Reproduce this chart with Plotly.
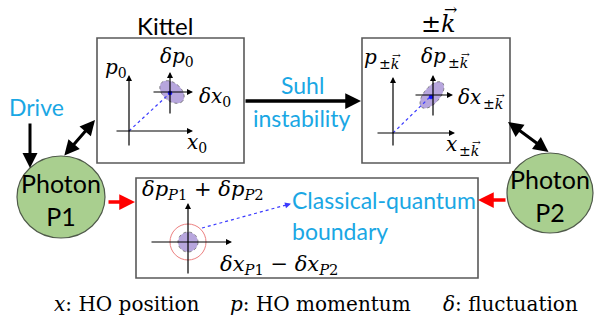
import numpy as np
import plotly.graph_objects as go

# Text content of the diagram
box_titles = ["Kittel", "\u00b1<i>k</i>"]
photon_labels = ["Photon<br>P1", "Photon<br>P2"]
process_labels = ["Drive", "Suhl", "instability"]
kittel_axes = ["<i>p</i><sub>0</sub>", "<i>x</i><sub>0</sub>",
               "<i>\u03b4p</i><sub>0</sub>", "<i>\u03b4x</i><sub>0</sub>"]
k_axes = ["<i>p</i>", "<i>x</i>", "<i>\u03b4p</i>", "<i>\u03b4x</i>"]
k_sub = "\u00b1<i>k</i>"
pair_axes = ["<i>\u03b4p</i><sub><i>P</i>1</sub> + <i>\u03b4p</i><sub><i>P</i>2</sub>",
             "<i>\u03b4x</i><sub><i>P</i>1</sub> \u2212 <i>\u03b4x</i><sub><i>P</i>2</sub>"]
boundary_label = ["Classical-quantum", "boundary"]
legend_items = ["<i>x</i>: HO position", "<i>p</i>: HO momentum", "<i>\u03b4</i>: fluctuation"]

BLUE = "#1AA7E4"
GREEN = "#A9CF8F"
PURPLE = "rgba(170,150,215,0.85)"
SERIF = "DejaVu Serif"
SANS = "Lato"

fig = go.Figure()
shapes = []
ann = []


def box(x0, y0, x1, y1):
    shapes.append(dict(type="rect", x0=x0, y0=y0, x1=x1, y1=y1,
                       line=dict(color="#595959", width=1.6)))


def arrow(x0, y0, x1, y1, color="black", width=1.2, size=1.0, both=False):
    ann.append(dict(x=x1, y=y1, ax=x0, ay=y0, xref="x", yref="y", axref="x", ayref="y",
                    text="", showarrow=True, arrowhead=2, arrowsize=size, arrowwidth=width,
                    arrowcolor=color, standoff=0, startstandoff=0,
                    arrowside="end+start" if both else "end", startarrowhead=2,
                    startarrowsize=size))


def label(x, y, text, size, family=SERIF, color="black", xanchor="center"):
    ann.append(dict(x=x, y=y, xref="x", yref="y", text=text, showarrow=False,
                    xanchor=xanchor, yanchor="middle", borderpad=0,
                    font=dict(family=family, size=size, color=color)))


def klabel(jx, y, main, size=20):
    # main symbol, then a "±k" subscript with a small vector arrow over k
    s = size * 0.7
    label(jx, y, main, size, xanchor="right")
    label(jx, y + 7, k_sub, s, xanchor="left")
    label(jx + 0.84 * s + 0.45 * s, y + 7 - 0.62 * s, "\u2192", s * 0.75)


def ellipse(cx, cy, a, b, ang, fill, line_color="#666", dash="dot"):
    t = np.linspace(0, 2 * np.pi, 60)
    r = np.deg2rad(ang)
    xs = cx + a * np.cos(t) * np.cos(r) - b * np.sin(t) * np.sin(r)
    ys = cy + a * np.cos(t) * np.sin(r) + b * np.sin(t) * np.cos(r)
    path = "M " + " L ".join(f"{x:.2f},{y:.2f}" for x, y in zip(xs, ys)) + " Z"
    shapes.append(dict(type="path", path=path, fillcolor=fill,
                       line=dict(color=line_color, width=0.8, dash=dash)))


def circle(cx, cy, rx, ry, fill, line_color, width=1.2, dash="solid"):
    shapes.append(dict(type="circle", x0=cx - rx, x1=cx + rx, y0=cy - ry, y1=cy + ry,
                       fillcolor=fill, line=dict(color=line_color, width=width, dash=dash)))


# Boxes
box(97, 38, 244, 163)
box(362, 38, 510, 163)
box(136, 178, 478, 278)
label(165, 25, box_titles[0], 24, SANS)
label(438, 24, box_titles[1], 24)
label(450, 9, "\u2192", 16)

# Photon ellipses
circle(61, 197, 44, 41, GREEN, "#4f5a4a")
circle(550, 193, 43, 40, GREEN, "#4f5a4a")
label(61, 199, photon_labels[0], 25, SANS)
label(550, 195, photon_labels[1], 25, SANS)

# Kittel phase space
arrow(129, 147, 129, 75)
arrow(115, 131, 193, 131)
ellipse(172, 92, 14, 9, 40, PURPLE)
arrow(170, 115, 170, 72)
arrow(152, 92, 193, 92)
shapes.append(dict(type="line", x0=129, y0=131, x1=169, y1=94,
                   line=dict(color="#3a3aff", width=1.2, dash="dot")))
circle(170, 93, 2, 2, "#1010ff", "#1010ff", 0.5)
label(116, 68, kittel_axes[0], 20)
label(197, 143, kittel_axes[1], 20)
label(177, 57, kittel_axes[2], 20)
label(215, 97, kittel_axes[3], 20)

# +-k phase space
arrow(393, 147, 393, 77)
arrow(376, 133, 455, 133)
ellipse(432, 95, 16, 8, -50, PURPLE)
arrow(433, 117, 433, 75)
arrow(414, 95, 453, 95)
shapes.append(dict(type="line", x0=393, y0=133, x1=430, y1=97,
                   line=dict(color="#3a3aff", width=1.2, dash="dot")))
circle(431, 97, 2, 2, "#1010ff", "#1010ff", 0.5)
klabel(378, 57, k_axes[0])
klabel(458, 144, k_axes[1])
klabel(447, 56, k_axes[2])
klabel(482, 97, k_axes[3])

# Suhl instability arrow
arrow(244, 101, 361, 101, width=3.5, size=0.9)
label(302, 85, process_labels[1], 23, SANS, BLUE)
label(302, 118, process_labels[2], 23, SANS, BLUE)

# Drive
label(36, 107, process_labels[0], 23, SANS, BLUE)
arrow(30, 122, 30, 168, width=3, size=1.0)

# Photon <-> magnon couplings
arrow(63, 157, 95, 120, width=3, size=1.0, both=True)
arrow(550, 153, 508, 122, width=3, size=1.0, both=True)
arrow(107, 202, 135, 202, color="#ff0000", width=3.5, size=0.9)
arrow(507, 200, 478, 200, color="#ff0000", width=3.5, size=0.9)

# Two-photon phase space
circle(188, 242, 18, 18, "rgba(0,0,0,0)", "#ec8080", 1.0)
arrow(188, 275, 188, 203)
arrow(150, 242, 232, 242)
circle(188, 242, 10, 10, PURPLE, "#666", 0.8, "dot")
shapes.append(dict(type="line", x0=202, y0=228, x1=288, y1=204.5,
                   line=dict(color="#3a3aff", width=1.2, dash="dot")))
arrow(284, 205.6, 291, 203.7, color="#3a3aff", width=1.2, size=1.0)
label(203, 190, pair_axes[0], 21)
label(279, 265, pair_axes[1], 21)
label(291, 200, boundary_label[0], 23, SANS, BLUE, "left")
label(291, 231, boundary_label[1], 23, SANS, BLUE, "left")

# Legend line
label(53, 304, legend_items[0], 20, xanchor="left")
label(320, 304, legend_items[1], 20)
label(579, 304, legend_items[2], 20, xanchor="right")

fig.update_layout(
    width=595, height=324, margin=dict(l=0, r=0, t=0, b=0),
    paper_bgcolor="white", plot_bgcolor="white",
    xaxis=dict(range=[0, 595], visible=False, fixedrange=True),
    yaxis=dict(range=[324, 0], visible=False, fixedrange=True),
    shapes=shapes, annotations=ann, showlegend=False,
)
fig.write_html("out.html", config={"displayModeBar": False},
               post_script="document.body.style.margin='0';")
